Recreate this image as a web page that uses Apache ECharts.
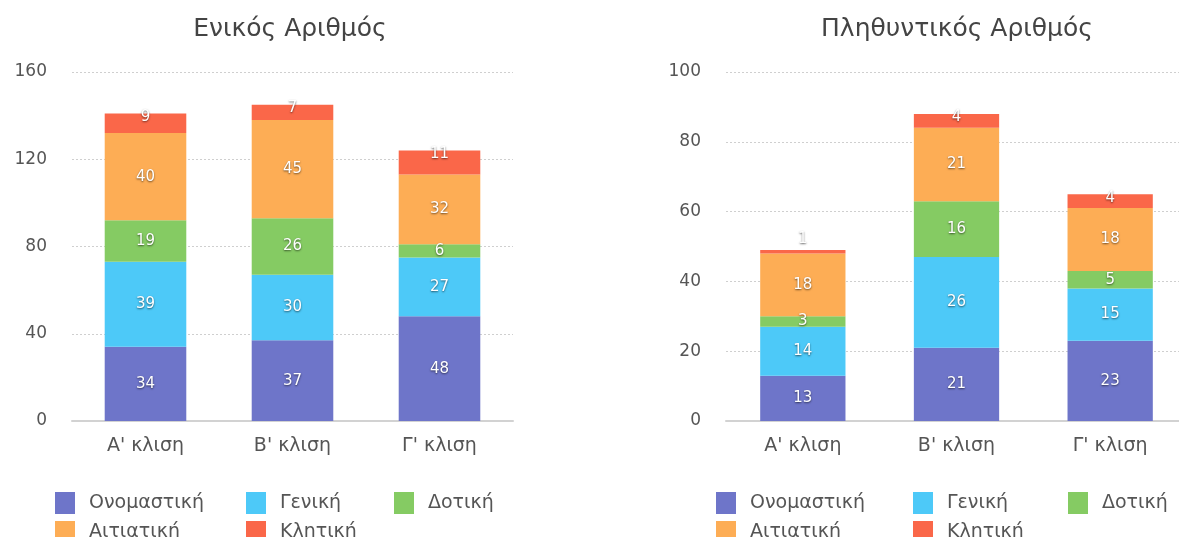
<!DOCTYPE html>
<html>
<head>
<meta charset="utf-8">
<script src="https://cdn.jsdelivr.net/npm/echarts@6/dist/echarts.min.js"></script>
<style>
  html, body { margin: 0; padding: 0; background: #fff; }
  #chart { width: 1179px; height: 537px; }
</style>
</head>
<body>
<div id="chart"></div>
<script>
// Declension categories (x axis)
const categories = ["Α' κλιση", "Β' κλιση", "Γ' κλιση"];

// Grammatical cases (stack order, bottom to top)
const caseNames = ['Ονομαστική', 'Γενική', 'Δοτική', 'Αιτιατική', 'Κλητική'];
const caseColors = ['#6e75c9', '#4dc9f8', '#85cb63', '#fdad55', '#fa6749'];

// Singular counts per declension
const singularNominative = [34, 37, 48];
const singularGenitive   = [39, 30, 27];
const singularDative     = [19, 26, 6];
const singularAccusative = [40, 45, 32];
const singularVocative   = [9, 7, 11];

// Plural counts per declension
const pluralNominative = [13, 21, 23];
const pluralGenitive   = [14, 26, 15];
const pluralDative     = [3, 16, 5];
const pluralAccusative = [18, 21, 18];
const pluralVocative   = [1, 4, 4];

// Value axis ranges
const singularTicks = [0, 40, 80, 120, 160];
const pluralTicks = [0, 20, 40, 60, 80, 100];

const titles = ['Ενικός Αριθμός', 'Πληθυντικός Αριθμός'];

const FONT = "'DejaVu Sans', 'Noto Sans', sans-serif";
const TEXT = '#555';

const singularSets = [singularNominative, singularGenitive, singularDative, singularAccusative, singularVocative];
const pluralSets = [pluralNominative, pluralGenitive, pluralDative, pluralAccusative, pluralVocative];

const valueLabel = {
  show: true,
  position: 'inside',
  color: '#fff',
  fontSize: 15,
  fontFamily: FONT,
  textShadowColor: 'rgba(0,0,0,0.6)',
  textShadowBlur: 2,
  textShadowOffsetY: 1
};

function buildSeries(sets, gridIndex, stack) {
  return sets.map((values, i) => {
    const top = i === sets.length - 1;
    const data = values.map(v => {
      if (!top) return v;
      // the topmost segment keeps its label near its upper edge,
      // and lifts it above the bar when the segment is too thin
      return { value: v, label: { position: 'top', distance: v < 2 ? 3 : -11 } };
    });
    return {
      name: caseNames[i],
      type: 'bar',
      stack: stack,
      xAxisIndex: gridIndex,
      yAxisIndex: gridIndex,
      barWidth: '55.5%',
      itemStyle: { color: caseColors[i] },
      label: valueLabel,
      data: data
    };
  });
}

function valueAxis(gridIndex, ticks) {
  return {
    type: 'value',
    gridIndex: gridIndex,
    min: ticks[0],
    max: ticks[ticks.length - 1],
    interval: ticks[1] - ticks[0],
    axisLabel: { color: TEXT, fontSize: 17, fontFamily: FONT, margin: 25 },
    axisLine: { show: false },
    axisTick: { show: false },
    splitLine: { lineStyle: { color: '#cfcfcf', type: [2, 2], width: 1 } }
  };
}

function categoryAxis(gridIndex) {
  return {
    type: 'category',
    gridIndex: gridIndex,
    data: categories,
    axisTick: { show: false },
    axisLine: { lineStyle: { color: '#d2d2d2', width: 2 } },
    axisLabel: { color: TEXT, fontSize: 19, fontFamily: FONT, margin: 16 }
  };
}

// Legend laid out as a small grid of columns under each chart
function legendBlock(lefts, top) {
  const rows = [top, top + 29];
  const slots = [[0, 0], [1, 0], [2, 0], [0, 1], [1, 1]];
  return caseNames.map((name, i) => ({
    data: [name],
    left: lefts[slots[i][0]],
    top: rows[slots[i][1]],
    padding: 0,
    icon: 'rect',
    itemWidth: 20,
    itemHeight: 22,
    selectedMode: false,
    textStyle: { color: TEXT, fontSize: 19, fontFamily: FONT, padding: [0, 0, 0, 9] }
  }));
}

// The plural chart runs slightly past the right edge of the canvas
const grids = [
  { left: 72, top: 72, right: 666, bottom: 116, outerBoundsMode: 'none' },
  { left: 726, top: 72, right: -8, bottom: 116, outerBoundsMode: 'none' }
];

const option = {
  animation: false,
  backgroundColor: '#fff',
  title: [
    { text: titles[0], left: 290, top: 17, textAlign: 'center', padding: 0,
      textStyle: { color: '#444', fontSize: 25, fontWeight: 'normal', fontFamily: FONT } },
    { text: titles[1], left: 957, top: 17, textAlign: 'center', padding: 0,
      textStyle: { color: '#444', fontSize: 25, fontWeight: 'normal', fontFamily: FONT } }
  ],
  legend: legendBlock([55, 246, 394], 492).concat(legendBlock([716, 913, 1068], 492)),
  grid: grids,
  xAxis: [categoryAxis(0), categoryAxis(1)],
  yAxis: [valueAxis(0, singularTicks), valueAxis(1, pluralTicks)],
  series: buildSeries(singularSets, 0, 'singular').concat(buildSeries(pluralSets, 1, 'plural'))
};

const chart = echarts.init(document.getElementById('chart'), null, { renderer: 'canvas' });
chart.setOption(option);
</script>
</body>
</html>
